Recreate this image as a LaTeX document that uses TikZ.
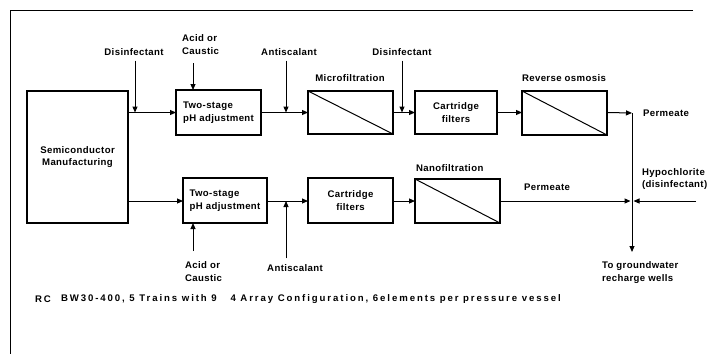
\documentclass[tikz,border=0pt]{standalone}
\usepackage{fontspec}
\setmainfont{Liberation Sans}[LetterSpace=4]
\newfontfamily\footfont{Liberation Sans}[LetterSpace=20]
\usetikzlibrary{arrows.meta}
\begin{document}
\begin{tikzpicture}[x=1pt,y=-1pt,
  every node/.style={font=\fontsize{9.6}{12.5}\selectfont\bfseries, inner sep=0pt, outer sep=0pt},
  box/.style={draw, line width=1.3pt, anchor=north west, align=center},
  ln/.style={line width=1pt},
  arr/.style={line width=1pt, -{Triangle[length=6pt,width=5pt]}},
  lbl/.style={align=left},
  foot/.style={anchor=west, font=\fontsize{9.6}{11}\selectfont\bfseries\footfont}]
\useasboundingbox (0,0) rectangle (711,354);
% frame (partial, as scanned)
\draw[line width=1pt] (693,10) -- (10,10) -- (10,354);
% boxes
\node[box, minimum width=101pt, minimum height=132pt] (semi) at (27,91) {Semiconductor\\Manufacturing};
\node[box, minimum width=85pt, minimum height=45pt, align=left] (ph1) at (176,90) {Two-stage\\pH adjustment};
\node[box, minimum width=85pt, minimum height=43pt] (mf) at (308,91) {};
\node[box, minimum width=82pt, minimum height=43pt] (cf1) at (415,91) {Cartridge\\filters};
\node[box, minimum width=85pt, minimum height=44pt] (ro) at (522,91) {};
\node[box, minimum width=84pt, minimum height=45pt, align=left] (ph2) at (183,178) {Two-stage\\pH adjustment};
\node[box, minimum width=85pt, minimum height=45pt] (cf2) at (308,178) {Cartridge\\filters};
\node[box, minimum width=85pt, minimum height=44pt] (nf) at (415,179) {};
% membrane diagonals
\draw[ln] (mf.north west) -- (mf.south east);
\draw[ln] (ro.north west) -- (ro.south east);
\draw[ln] (nf.north west) -- (nf.south east);
% box titles
\node (mft) at (350,78) {Microfiltration};
\node[anchor=west] (rot) at (522,78) {Reverse osmosis};
\node[anchor=west] (nft) at (416,168) {Nanofiltration};
% junctions
\coordinate (j1) at (632,113);
\coordinate (j2) at (632,201);
\coordinate (jend) at (632,252);
\coordinate (hin) at (696,201);
% main top line
\draw[arr] (semi.east |- ph1.west) -- (ph1.west);
\draw[arr] (ph1.east) -- (mf.west |- ph1.east);
\draw[arr] (mf.east |- ph1.east) -- (cf1.west |- ph1.east);
\draw[arr] (cf1.east |- ph1.east) -- (ro.west |- ph1.east);
\draw[arr] (ro.east |- ph1.east) -- (j1);
\draw[arr] (j1) -- (jend);
% main bottom line
\draw[arr] (semi.east |- j2) -- (ph2.west |- j2);
\draw[arr] (ph2.east |- j2) -- (cf2.west |- j2);
\draw[arr] (cf2.east |- j2) -- (nf.west |- j2);
\draw[arr] (nf.east |- j2) -- ([xshift=-1.5pt]j2);
\draw[arr] (hin) -- ([xshift=1.5pt]j2);
% top chemical feeds
\node (dis1) at (134,52) {Disinfectant};
\node[lbl, anchor=north west] (acid1) at (182,35) {Acid or\\Caustic};
\node (ant1) at (289,52) {Antiscalant};
\node (dis2) at (402,52) {Disinfectant};
\draw[arr] ([xshift=1pt,yshift=-5pt]dis1.south) -- ([xshift=1pt]dis1.south |- ph1.west);
\draw[arr] (193,63) -- (193,90);
\draw[arr] ([xshift=-3pt,yshift=-5pt]ant1.south) -- ([xshift=-3pt]ant1.south |- ph1.west);
\draw[arr] ([yshift=-5pt]dis2.south) -- (dis2.south |- ph1.west);
% bottom chemical feeds
\node[lbl, anchor=north west] (acid2) at (185,262) {Acid or\\Caustic};
\node (ant2) at (295,268) {Antiscalant};
\draw[arr] (193,251) -- (ph2.south -| 193,0);
\draw[arr] ([xshift=-9pt,yshift=6pt]ant2.north) -- ([xshift=-9pt]ant2.north |- j2);
% outlet labels
\node[anchor=west] (perm1) at (643,113) {Permeate};
\node (perm2) at (547,187) {Permeate};
\node[lbl, anchor=west] (hypo) at (642,179) {Hypochlorite\\(disinfectant)};
\node[lbl, anchor=north west] (gw) at (602,262) {To groundwater\\recharge wells};
% footer
\node[foot] (rc) at (35,299) {RC};
\node[foot] (foottext) at (61,299) {BW30-400, 5 Trains with 9 \ \ 4 Array Configuration, 6elements per pressure vessel};
\end{tikzpicture}
\end{document}
